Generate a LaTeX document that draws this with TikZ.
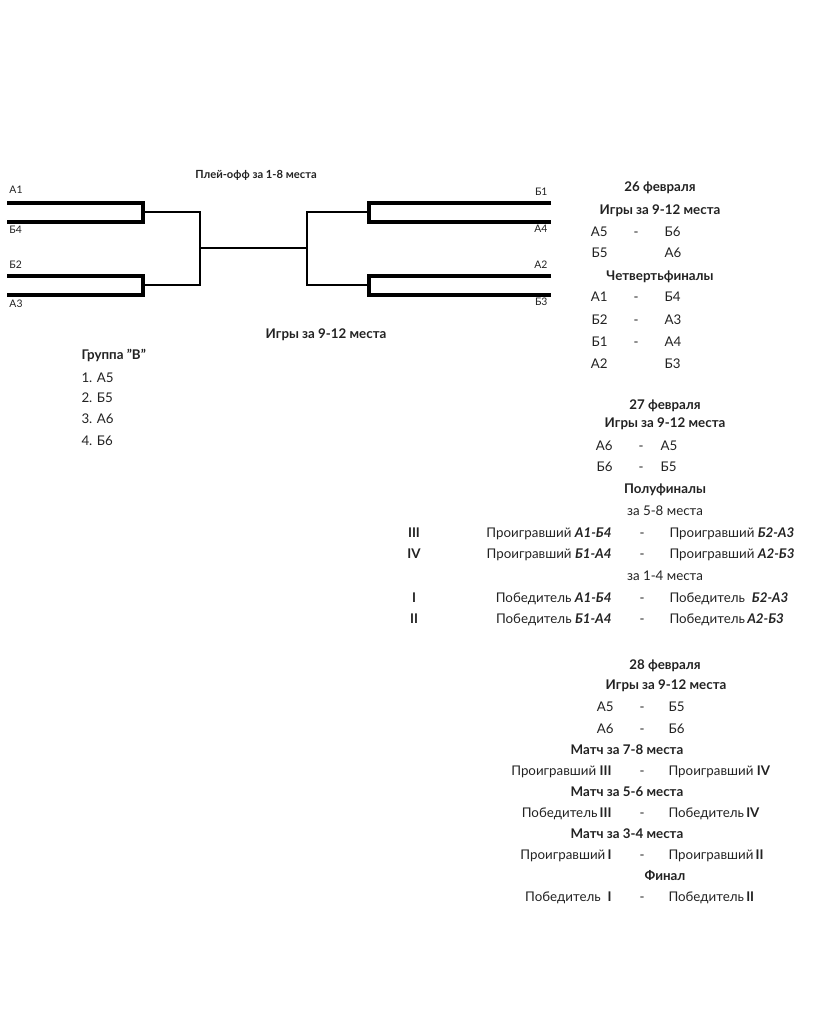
\documentclass[tikz,border=0pt]{standalone}
\usepackage{fontspec}
\setmainfont{Lato}
\usepackage{tikz}
\definecolor{txt}{RGB}{34,34,34}
\tikzset{every picture/.style={line width=0.75pt}}
\tikzset{
  lbl/.style={inner sep=0.75pt, text=txt, font=\fontsize{7.8}{9}\selectfont},
  cell/.style={inner sep=0.75pt, text=txt, text height=1.5ex, text depth=.3ex, font=\fontsize{10}{12}\selectfont},
  head/.style={cell, font=\fontsize{10}{12}\selectfont\bfseries},
  pair/.style={line width=2.3pt, line join=miter},
  link/.style={line width=1pt}
}

\begin{document}
\begin{tikzpicture}[x=0.75pt,y=0.75pt,yscale=-1,xscale=1]
\useasboundingbox (0,0) rectangle (818,1024);
% bracket
\coordinate (la1) at (7,203); \coordinate (la2) at (143,203);
\coordinate (lb1) at (7,222); \coordinate (lb2) at (143,222);
\coordinate (lc1) at (7,276); \coordinate (lc2) at (143,276);
\coordinate (ld1) at (7,295); \coordinate (ld2) at (143,295);
\coordinate (ra1) at (551,203); \coordinate (ra2) at (369,203);
\coordinate (rb1) at (551,222); \coordinate (rb2) at (369,222);
\coordinate (rc1) at (551,276); \coordinate (rc2) at (369,276);
\coordinate (rd1) at (551,295); \coordinate (rd2) at (369,295);
\draw [pair] (la1) -- (la2) -- (lb2) -- (lb1) ;
\draw [pair] (lc1) -- (lc2) -- (ld2) -- (ld1) ;
\draw [pair] (ra1) -- (ra2) -- (rb2) -- (rb1) ;
\draw [pair] (rc1) -- (rc2) -- (rd2) -- (rd1) ;
\coordinate (lq1) at (143,212); \coordinate (lq2) at (143,285);
\coordinate (ls1) at (200,212); \coordinate (ls2) at (200,285); \coordinate (lf) at (200,248);
\coordinate (rq1) at (369,212); \coordinate (rq2) at (369,285);
\coordinate (rs1) at (307,212); \coordinate (rs2) at (307,285); \coordinate (rf) at (307,248);
\draw [link] (lq1) -- (ls1) -- (ls2) -- (lq2) ;
\draw [link] (rq1) -- (rs1) -- (rs2) -- (rq2) ;
\draw [link] (lf) -- (rf) ;
\node (po-title) at (256,175) [lbl, font=\fontsize{8.4}{10}\selectfont\bfseries] {Плей-офф за 1-8 места};
\node (t-a1) at (8,190) [lbl, anchor=west] {А1};
\node (t-b4) at (8,230) [lbl, anchor=west] {Б4};
\node (t-b2) at (8,265) [lbl, anchor=west] {Б2};
\node (t-a3) at (8,304) [lbl, anchor=west] {А3};
\node (t-b1) at (549,192) [lbl, anchor=east] {Б1};
\node (t-a4) at (549,229) [lbl, anchor=east] {А4};
\node (t-a2) at (549,265) [lbl, anchor=east] {А2};
\node (t-b3) at (549,302) [lbl, anchor=east] {Б3};
% group
\node (g-title) at (326,334) [head] {Игры за 9-12 места};
\node (g-name) at (80,355) [head, anchor=west] {Группа \symbol{34}В\symbol{34}};
\node (g-1) at (80,378) [cell, anchor=west] {1. А5};
\node (g-2) at (80,398) [cell, anchor=west] {2. Б5};
\node (g-3) at (80,419) [cell, anchor=west] {3. А6};
\node (g-4) at (80,441) [cell, anchor=west] {4. Б6};
% 26
\node (d1-date) at (660,187) [head] {26 февраля};
\node (d1-head) at (660,210) [head] {Игры за 9-12 места};
\node (d1-r1l) at (609,232) [cell, anchor=east] {А5};
\node (d1-r1d) at (636,232) [cell] {-};
\node (d1-r1r) at (663,232) [cell, anchor=west] {Б6};
\node (d1-r2l) at (609,253) [cell, anchor=east] {Б5};
\node (d1-r2r) at (663,253) [cell, anchor=west] {А6};
\node (d1-qf) at (660,276) [head] {Четвертьфиналы};
\node (d1-r3l) at (609,297) [cell, anchor=east] {А1};
\node (d1-r3d) at (636,297) [cell] {-};
\node (d1-r3r) at (663,297) [cell, anchor=west] {Б4};
\node (d1-r4l) at (609,320) [cell, anchor=east] {Б2};
\node (d1-r4d) at (636,320) [cell] {-};
\node (d1-r4r) at (663,320) [cell, anchor=west] {А3};
\node (d1-r5l) at (609,342) [cell, anchor=east] {Б1};
\node (d1-r5d) at (636,342) [cell] {-};
\node (d1-r5r) at (663,342) [cell, anchor=west] {А4};
\node (d1-r6l) at (609,364) [cell, anchor=east] {А2};
\node (d1-r6r) at (663,364) [cell, anchor=west] {Б3};
% 27
\node (d2-date) at (665,405) [head] {27 февраля};
\node (d2-head) at (665,423) [head] {Игры за 9-12 места};
\node (d2-r1l) at (614,446) [cell, anchor=east] {А6};
\node (d2-r1d) at (641,446) [cell] {-};
\node (d2-r1r) at (659,446) [cell, anchor=west] {А5};
\node (d2-r2l) at (614,467) [cell, anchor=east] {Б6};
\node (d2-r2d) at (641,467) [cell] {-};
\node (d2-r2r) at (659,467) [cell, anchor=west] {Б5};
\node (d2-sf) at (665,489) [head] {Полуфиналы};
\node (d2-p58) at (665,511) [cell] {за 5-8 места};
\node (d2-n3) at (414,533) [head] {III};
\node (d2-r3l) at (613,533) [cell, anchor=east] {Проигравший \textbf{\textit{А1-Б4}}};
\node (d2-r3d) at (642,533) [cell] {-};
\node (d2-r3r) at (668,533) [cell, anchor=west] {Проигравший \textbf{\textit{Б2-А3}}};
\node (d2-n4) at (414,554) [head] {IV};
\node (d2-r4l) at (613,554) [cell, anchor=east] {Проигравший \textbf{\textit{Б1-А4}}};
\node (d2-r4d) at (642,554) [cell] {-};
\node (d2-r4r) at (668,554) [cell, anchor=west] {Проигравший \textbf{\textit{А2-Б3}}};
\node (d2-p14) at (665,576) [cell] {за 1-4 места};
\node (d2-n1) at (414,598) [head] {I};
\node (d2-r5l) at (613,598) [cell, anchor=east] {Победитель \textbf{\textit{А1-Б4}}};
\node (d2-r5d) at (642,598) [cell] {-};
\node (d2-r5r) at (668,598) [cell, anchor=west] {Победитель \ \textbf{\textit{Б2-А3}}};
\node (d2-n2) at (414,619) [head] {II};
\node (d2-r6l) at (613,619) [cell, anchor=east] {Победитель \textbf{\textit{Б1-А4}}};
\node (d2-r6d) at (642,619) [cell] {-};
\node (d2-r6r) at (668,619) [cell, anchor=west] {Победитель\,\textbf{\textit{А2-Б3}}};
% 28
\node (d3-date) at (665,665) [head] {28 февраля};
\node (d3-head) at (666,685) [head] {Игры за 9-12 места};
\node (d3-r1l) at (615,707) [cell, anchor=east] {А5};
\node (d3-r1d) at (642,707) [cell] {-};
\node (d3-r1r) at (667,707) [cell, anchor=west] {Б5};
\node (d3-r2l) at (615,729) [cell, anchor=east] {А6};
\node (d3-r2d) at (642,729) [cell] {-};
\node (d3-r2r) at (667,729) [cell, anchor=west] {Б6};
\node (d3-m78) at (627,750) [head] {Матч за 7-8 места};
\node (d3-r3l) at (613,771) [cell, anchor=east] {Проигравший \textbf{III}};
\node (d3-r3d) at (642,771) [cell] {-};
\node (d3-r3r) at (667,771) [cell, anchor=west] {Проигравший \textbf{IV}};
\node (d3-m56) at (627,792) [head] {Матч за 5-6 места};
\node (d3-r4l) at (613,813) [cell, anchor=east] {Победитель\,\textbf{III}};
\node (d3-r4d) at (642,813) [cell] {-};
\node (d3-r4r) at (667,813) [cell, anchor=west] {Победитель\,\textbf{IV}};
\node (d3-m34) at (627,834) [head] {Матч за 3-4 места};
\node (d3-r5l) at (613,855) [cell, anchor=east] {Проигравший\,\textbf{I}};
\node (d3-r5d) at (642,855) [cell] {-};
\node (d3-r5r) at (667,855) [cell, anchor=west] {Проигравший\,\textbf{II}};
\node (d3-fin) at (665,876) [head] {Финал};
\node (d3-r6l) at (613,897) [cell, anchor=east] {Победитель \ \textbf{I}};
\node (d3-r6d) at (642,897) [cell] {-};
\node (d3-r6r) at (667,897) [cell, anchor=west] {Победитель\,\textbf{II}};
\end{tikzpicture}
\end{document}
